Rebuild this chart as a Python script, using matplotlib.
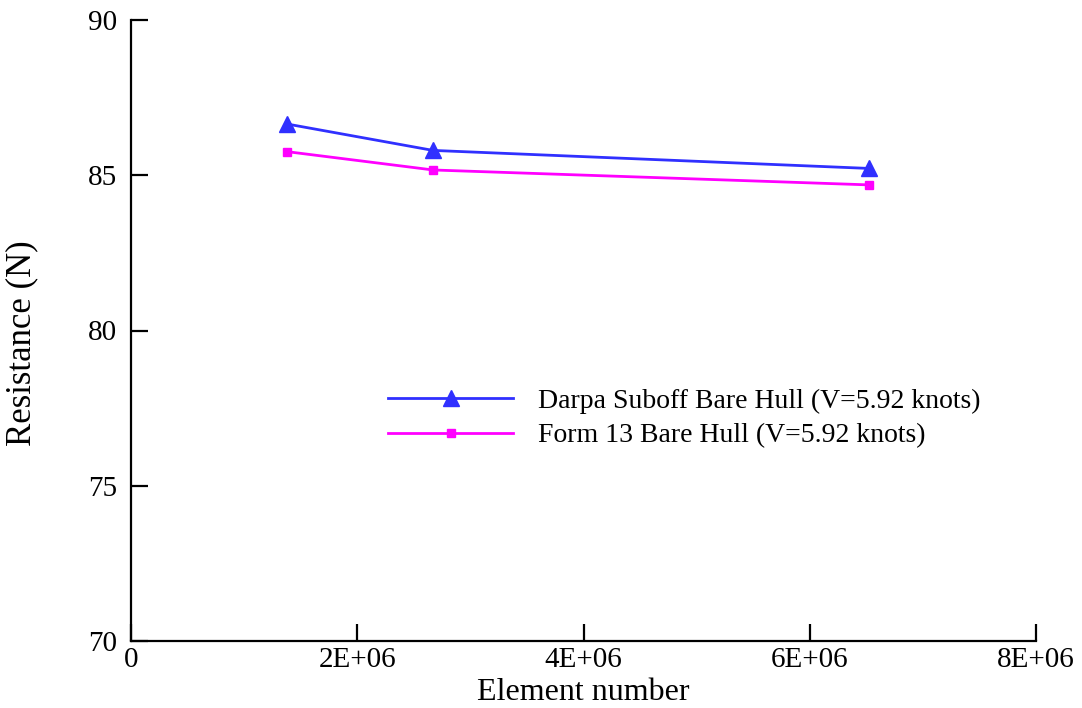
import matplotlib
matplotlib.use("Agg")
import matplotlib.pyplot as plt

plt.rcParams['font.family'] = ['Liberation Serif', 'DejaVu Serif']

elements = [1.38e6, 2.67e6, 6.52e6]
darpa = [86.65, 85.80, 85.22]
form13 = [85.76, 85.17, 84.69]
labels = ["Darpa Suboff Bare Hull (V=5.92 knots)", "Form 13 Bare Hull (V=5.92 knots)"]
xticks = [0, 2e6, 4e6, 6e6, 8e6]
xticklabels = ["0", "2E+06", "4E+06", "6E+06", "8E+06"]
yticks = [70, 75, 80, 85, 90]

fig = plt.figure(figsize=(10.82, 7.08), dpi=100)
ax = fig.add_axes([131/1082, 1-641/708, (1036-131)/1082, (641-20)/708])

ax.plot(elements, darpa, color='#3030ff', lw=2, marker='^', ms=12, label=labels[0])
ax.plot(elements, form13, color='#ff00ff', lw=2, marker='s', ms=6, label=labels[1])

ax.set_xlim(0, 8e6)
ax.set_ylim(70, 90)
ax.set_xticks(xticks)
ax.set_xticklabels(xticklabels)
ax.set_yticks(yticks)
for s in ['top', 'right']:
    ax.spines[s].set_visible(False)
for s in ['left', 'bottom']:
    ax.spines[s].set_linewidth(1.6)
ax.tick_params(direction='in', length=12, width=1.6, labelsize=21)
ax.tick_params(axis='y', pad=10)
ax.tick_params(axis='x', pad=4)
ax.set_xlabel("Element number", fontsize=23, labelpad=4)
ax.set_ylabel("Resistance (N)", fontsize=25)
ax.yaxis.set_label_coords((38 - 131) / 905, 0.48)

leg = ax.legend(loc='upper left', bbox_to_anchor=(0.284, 0.407), frameon=False,
                borderpad=0, borderaxespad=0,
                fontsize=20, handlelength=4.5, handletextpad=0.9, labelspacing=0.33)

fig.savefig("out.png", dpi=100)
